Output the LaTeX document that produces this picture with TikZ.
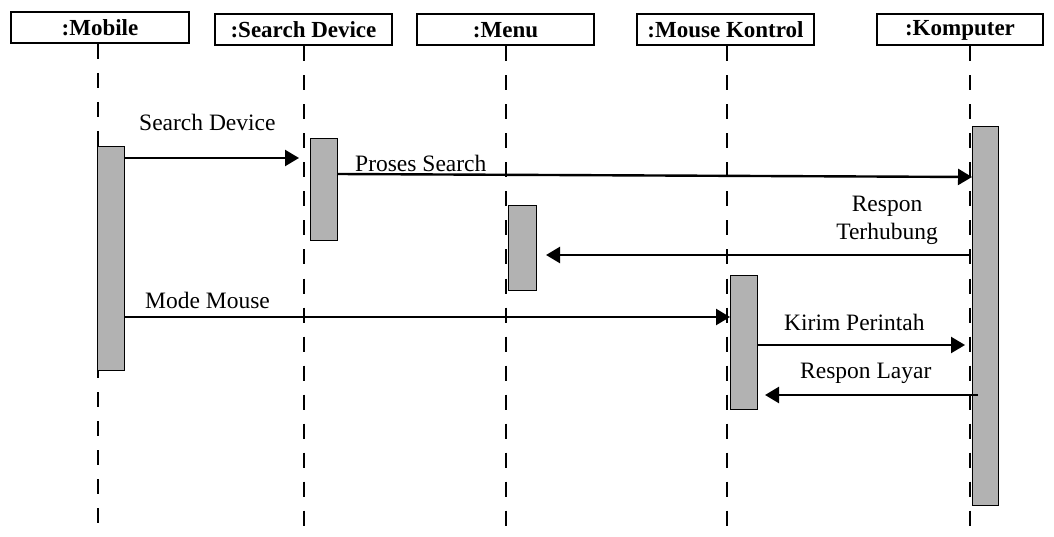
\documentclass[tikz,border=0pt]{standalone}
\usepackage{fontspec}
\setmainfont{Liberation Serif}
\usetikzlibrary{arrows.meta}
\begin{document}
\begin{tikzpicture}[x=1pt,y=-1pt,
 head/.style={draw,line width=2pt,inner sep=0pt,minimum height=31pt,font=\bfseries\fontsize{23}{23}\selectfont},
 life/.style={line width=2.4pt,dash pattern=on 15pt off 14pt},
 act/.style={draw,fill=black!30,line width=1.2pt,anchor=north west,inner sep=0pt},
 msg/.style={line width=2.4pt,-{Triangle[length=14pt,width=16pt]}},
 lbl/.style={font=\fontsize{23.5}{28}\selectfont,inner sep=0pt,align=center}]
\useasboundingbox (0,0) rectangle (1054,537);
% headers
\node[head,minimum width=178pt] (hm) at (100,27.5) {:Mobile};
\node[head,minimum width=177pt] (hs) at (303.5,30) {:Search Device};
\node[head,minimum width=177pt] (hn) at (505.5,30) {:Menu};
\node[head,minimum width=177pt] (hk) at (725.5,30) {:Mouse Kontrol};
\node[head,minimum width=166pt] (hc) at (960,30) {:Komputer};
% lifeline ends
\coordinate (em) at (98,537);
\coordinate (es) at (304,537);
\coordinate (en) at (506,537);
\coordinate (ek) at (727,537);
\coordinate (ec) at (970,537);
\draw[life] (hm.south -| em) -- (em);
\draw[life] (hs.south -| es) -- (es);
\draw[life] (hn.south -| en) -- (en);
\draw[life] (hk.south -| ek) -- (ek);
\draw[life] (hc.south -| ec) -- (ec);
% activations
\node[act,minimum width=27pt,minimum height=224pt] (am) at (97,146) {};
\node[act,minimum width=27pt,minimum height=102pt] (as) at (310,138) {};
\node[act,minimum width=28pt,minimum height=85pt] (an) at (508,205) {};
\node[act,minimum width=27pt,minimum height=134pt] (ak) at (730,275) {};
\node[act,minimum width=26pt,minimum height=379pt] (ac) at (972,126) {};
% messages
\coordinate (t1) at (299,158);
\draw[msg] (am.east |- t1) -- (t1);
\node[lbl,anchor=south west] (l1) at (139,131) {Search Device};
\coordinate (s2) at (337,174);
\coordinate (t2) at (972,177);
\draw[msg] (s2) -- (t2);
\node[lbl,anchor=south west] (l2) at (355,172) {Proses Search};
\coordinate (s3) at (970,255);
\coordinate (t3) at (546,255);
\draw[msg] (s3) -- (t3);
\node[lbl] (l3) at (887,220) {Respon\\Terhubung};
\coordinate (t4) at (730,317);
\draw[msg] (am.east |- t4) -- (t4);
\node[lbl,anchor=south west] (l4) at (145,309) {Mode Mouse};
\coordinate (t5) at (965,345);
\draw[msg] (ak.east |- t5) -- (t5);
\node[lbl,anchor=south west] (l5) at (784,331) {Kirim Perintah};
\coordinate (s6) at (978,395);
\coordinate (t6) at (765,395);
\draw[msg] (s6) -- (t6);
\node[lbl,anchor=south west] (l6) at (800,384) {Respon Layar};
\end{tikzpicture}
\end{document}
